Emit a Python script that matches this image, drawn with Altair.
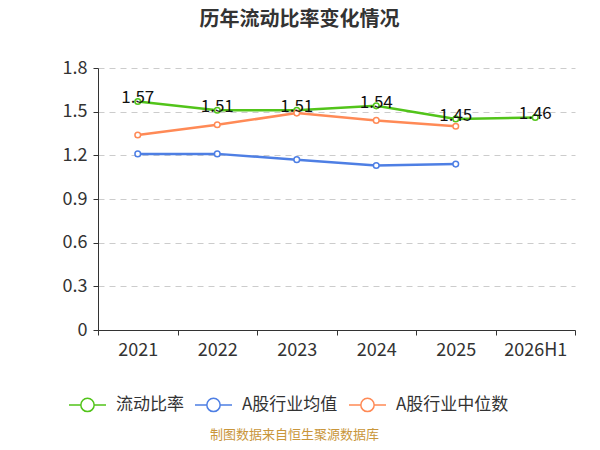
import altair as alt
import pandas as pd

years = ["2021", "2022", "2023", "2024", "2025", "2026H1"]
ratio = [1.57, 1.51, 1.51, 1.54, 1.45, 1.46]
avg = [1.21, 1.21, 1.17, 1.13, 1.14, None]
median = [1.34, 1.41, 1.49, 1.44, 1.40, None]

series_names = ["流动比率", "A股行业均值", "A股行业中位数"]
series_colors = ["#52C41A", "#4E7FE4", "#FF8A56"]

rows = []
for name, vals in zip(series_names, [ratio, avg, median]):
    for y, v in zip(years, vals):
        if v is not None:
            rows.append({"year": y, "series": name, "value": v})
df = pd.DataFrame(rows)

FONT = "Noto Sans CJK SC"
sym = "M-1,0L-0.36,0M0.36,0L1,0M-0.36,0A0.36,0.36,0,1,1,0.36,0A0.36,0.36,0,1,1,-0.36,0Z"

x = alt.X(
    "year:N",
    sort=years,
    scale=alt.Scale(type="band", domain=years, paddingInner=0, paddingOuter=0),
    bandPosition=0.5,
    axis=alt.Axis(
        title="制图数据来自恒生聚源数据库",
        titleColor="#C9963A",
        titleFontSize=13,
        titleFontWeight="normal",
        titleFont=FONT,
        titlePadding=69,
        titleX=196,
        titleAlign="center",
        labelAngle=0,
        labelFontSize=18,
        labelColor="#333333",
        labelFont=FONT,
        labelPadding=6,
        tickBand="extent",
        tickSize=5,
        tickColor="#333333",
        domainColor="#333333",
        grid=False,
    ),
)
y = alt.Y(
    "value:Q",
    scale=alt.Scale(domain=[0, 1.8], nice=False),
    axis=alt.Axis(
        title=None,
        values=[0, 0.3, 0.6, 0.9, 1.2, 1.5, 1.8],
        labelExpr="datum.value == 0 ? '0' : format(datum.value, '.1f')",
        labelFontSize=18,
        labelColor="#333333",
        labelFont=FONT,
        labelPadding=6,
        tickSize=5,
        tickColor="#333333",
        domainColor="#333333",
        gridColor="#CCCCCC",
        gridDash=[6, 5],
    ),
)
color = alt.Color(
    "series:N",
    scale=alt.Scale(domain=series_names, range=series_colors),
    legend=alt.Legend(
        title=None,
        orient="none",
        direction="horizontal",
        legendX=-30,
        legendY=317,
        symbolType=sym,
        symbolSize=1369,
        symbolStrokeWidth=1.5,
        symbolFillColor="white",
        labelFontSize=17,
        labelColor="#333333",
        labelFont=FONT,
        labelOffset=9,
        columnPadding=8,
    ),
)

lines = alt.Chart(df).mark_line(strokeWidth=2.5).encode(x=x, y=y, color=color)
points = alt.Chart(df).mark_point(filled=False, fill="white", fillOpacity=1, size=32, strokeWidth=1.5, opacity=1).encode(
    x=x,
    y=y,
    stroke=alt.Stroke("series:N", scale=alt.Scale(domain=series_names, range=series_colors), legend=None),
)
labels = alt.Chart(df[df["series"] == "流动比率"]).mark_text(
    fontSize=17, font=FONT, color="#111111", baseline="middle", dy=-3
).encode(x=x, y=y, text=alt.Text("value:Q", format=".2f"))

chart = alt.layer(lines, points, labels).properties(
    width=477,
    height=262,
    autosize=alt.AutoSizeParams(type="none"),
    padding={"left": 90, "top": 60, "right": 17, "bottom": 112},
    title=alt.TitleParams(
        "历年流动比率变化情况",
        fontSize=20,
        font=FONT,
        fontWeight="bold",
        color="#333333",
        anchor="middle",
        dx=-37,
        offset=29,
    ),
).configure_view(stroke=None)

chart.save("out.html", embed_options={"renderer": "svg", "actions": False})
